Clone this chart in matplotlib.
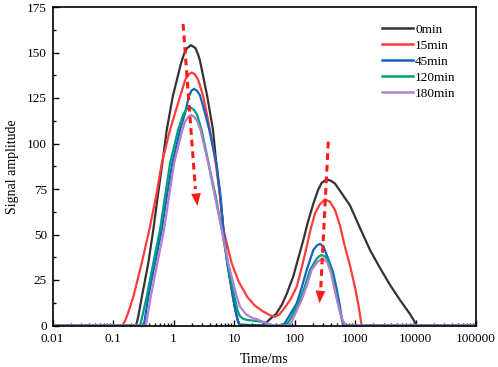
import numpy as np
import matplotlib
matplotlib.use("Agg")
import matplotlib.pyplot as plt
from matplotlib.ticker import FixedLocator, FuncFormatter, MultipleLocator, LogLocator, NullFormatter

plt.rcParams['font.family'] = ['Liberation Serif', 'DejaVu Serif']

# ---- data (time in ms, signal amplitude) ----
labels = ["0min", "15min", "45min", "120min", "180min"]
colors = ["#333333", "#ff3b3b", "#1463c0", "#00a07a", "#b27fd2"]

black_t = [0.01, 0.237, 0.25, 0.265, 0.30, 0.383, 0.463, 0.548, 0.653, 0.773,
           0.97, 1.33, 1.49, 1.67, 1.95, 2.31, 2.54, 2.74, 3.62, 4.5,
           5.1, 5.9, 6.7, 7.75, 9.6, 10.6, 11.5, 12.3, 28, 33,
           39.4, 50, 62, 75, 95.5, 114, 140, 167, 205, 245,
           280, 340, 400, 466, 565, 826, 1210, 1770, 2590, 3790,
           5545, 8110, 9500, 10470, 100000]
black_a = [0, 0, 2, 6, 15.8, 34.2, 52.5, 70.8, 89, 107.4,
           125.7, 144, 149.1, 152.4, 154, 152.4, 149.1, 145.5, 125.7, 107.4,
           89, 70.8, 52.5, 34.2, 15.8, 8, 3, 0.5, 0, 1.2,
           3.5, 6.5, 11.5, 17.7, 27, 36.3, 47, 57, 67, 74.4,
           78.3, 80.3, 79.5, 78, 74, 66, 53.6, 41.5, 31.6, 22.3,
           14, 6.3, 2.5, 0, 0]

red_t = [0.01, 0.141, 0.155, 0.17, 0.217, 0.298, 0.398, 0.514, 0.638, 0.875,
         1.28, 1.55, 1.74, 2.0, 2.27, 2.59, 3.11, 4.01, 5.0, 5.9,
         6.7, 9.16, 12, 16.5, 22, 30, 40, 47.6, 56, 70,
         88, 109, 132, 159, 185, 218, 262, 319, 386, 467,
         565, 684, 826, 1000, 1143, 1230, 1291, 100000]
red_a = [0, 0, 2, 5, 15.8, 34.2, 52.5, 70.8, 89, 107.4,
         125.7, 134.6, 137.7, 139, 137.9, 134.5, 125.7, 107.4, 89, 70.8,
         52.5, 34.2, 24, 15.8, 11, 7.8, 5.5, 4.8, 6, 10,
         15, 21.3, 32, 43.3, 53, 61.6, 66.5, 69.3, 68, 63.5,
         55, 43, 33, 21, 11, 4, 0, 0]

blue_t = [0.01, 0.317, 0.33, 0.345, 0.383, 0.494, 0.638, 0.773, 0.955, 1.28,
          1.55, 1.80, 1.98, 2.18, 2.44, 2.74, 3.32, 3.91, 5.13, 6.0,
          6.7, 7.75, 9.6, 10.6, 11.5, 12.3, 61.4, 70, 81, 109,
          132, 159, 205, 235, 264, 300, 330, 386, 438, 505,
          565, 605, 641, 100000]
blue_a = [0, 0, 2, 6, 15.8, 34.2, 52.5, 70.8, 89, 107.4,
          116.6, 126, 129, 130, 129, 126.5, 116.6, 107.4, 89, 70.8,
          52.5, 34.2, 15.8, 8, 3, 0, 0, 1.5, 5, 12.2,
          21, 30.5, 41.5, 44, 44.8, 43.5, 40, 34, 28.7, 19,
          10.3, 4, 0, 0]

green_t = [0.01, 0.279, 0.29, 0.31, 0.36, 0.463, 0.598, 0.724, 0.875, 1.19,
           1.45, 1.61, 1.87, 2.18, 2.44, 2.92, 4.01, 5.0, 6.3, 7.8,
           10.2, 11.5, 12.6, 14.5, 17, 30.1, 35, 39.4, 69.7, 78,
           90, 123, 150, 180, 230, 255, 282, 315, 350, 400,
           438, 520, 600, 665, 100000]
green_a = [0, 0, 2, 6, 15.8, 34.2, 52.5, 70.8, 89, 107.4,
           116, 118.5, 120, 118.5, 116, 107.4, 85.4, 70.8, 52.5, 34.2,
           15.8, 8, 5, 3.5, 3, 2, 1, 0, 0, 1.5,
           5, 14, 22, 30.5, 36.5, 38, 38.7, 38, 36.5, 31,
           25, 13, 4, 0, 0]

purple_t = [0.01, 0.347, 0.36, 0.375, 0.42, 0.54, 0.697, 0.843, 1.02, 1.40,
            1.55, 1.74, 1.95, 2.22, 2.49, 2.8, 3.76, 4.85, 6.3, 8.05,
            11.1, 12.6, 16, 20.6, 24, 30, 37, 44.1, 79, 88,
            100, 131, 160, 192, 240, 282, 315, 350, 400, 438,
            520, 600, 702, 100000]
purple_a = [0, 0, 2, 6, 15.8, 34.2, 52.5, 70.8, 89, 107.4,
            112, 114.5, 115.7, 114.5, 112, 107.4, 89, 70.8, 52.5, 34.2,
            15.8, 10.3, 6, 4, 3.5, 2, 1, 0, 0, 1.5,
            5.5, 14, 22, 30.5, 35, 36.4, 36, 34.5, 29, 23,
            12, 4, 0, 0]

series_t = [black_t, red_t, blue_t, green_t, purple_t]
series_a = [black_a, red_a, blue_a, green_a, purple_a]

xticks = [0.01, 0.1, 1, 10, 100, 1000, 10000, 100000]
xticklabels = ["0.01", "0.1", "1", "10", "100", "1000", "10000", "100000"]
yticks = [0, 25, 50, 75, 100, 125, 150, 175]

# ---- figure ----
fig = plt.figure(figsize=(4.98, 3.67), dpi=100)
ax = fig.add_axes([52.5 / 498, 1 - 325.5 / 367, (476 - 52.5) / 498, (325.5 - 7) / 367])

for t, a, c, lab in zip(series_t, series_a, colors, labels):
    ax.plot(t, a, color=c, lw=1.6, label=lab, solid_joinstyle='round')

ax.set_xscale('log')
ax.set_xlim(0.01, 100000)
ax.set_ylim(0, 175)
ax.xaxis.set_major_locator(FixedLocator(xticks))
ax.xaxis.set_major_formatter(FuncFormatter(lambda v, p: xticklabels[xticks.index(v)] if v in xticks else ""))
ax.xaxis.set_minor_locator(LogLocator(base=10, subs=np.arange(2, 10), numticks=50))
ax.xaxis.set_minor_formatter(NullFormatter())
ax.yaxis.set_major_locator(FixedLocator(yticks))
ax.yaxis.set_minor_locator(MultipleLocator(12.5))

ax.tick_params(which='both', direction='in', top=False, right=False, labelsize=9.5, width=1.0)
ax.tick_params(which='major', length=4.5)
ax.tick_params(axis='x', which='major', pad=5.5)
ax.tick_params(axis='y', which='major', pad=4)
ax.tick_params(which='minor', length=2.5)
for s in ax.spines.values():
    s.set_linewidth(1.2)

ax.set_xlabel("Time/ms", fontsize=10, labelpad=6)
ax.set_ylabel("Signal amplitude", fontsize=10, labelpad=6)

# ---- red dashed arrows ----
def dashed_arrow(x0, y0, x1, y1, xh, yh):
    ax.plot([x0, xh], [y0, yh], color='#ff1a1a', lw=2.2, ls=(0, (2.2, 1.6)), zorder=5)
    ax.annotate('', xy=(x1, y1), xytext=(xh, yh),
                arrowprops=dict(arrowstyle='-|>,head_length=0.9,head_width=0.35',
                                color='#ff1a1a', lw=0, shrinkA=0, shrinkB=0), zorder=6)

dashed_arrow(1.44, 165.7, 2.49, 65.7, 2.30, 75.0)
dashed_arrow(362, 101, 259, 12.2, 272, 21.0)

leg = ax.legend(loc='upper left', bbox_to_anchor=(0.777, 0.948), frameon=False,
                fontsize=9.5, handlelength=2.4, handletextpad=0.15,
                labelspacing=0.28, borderpad=0, borderaxespad=0)
for line in leg.get_lines():
    line.set_linewidth(1.8)

fig.savefig("out.png", dpi=100)
